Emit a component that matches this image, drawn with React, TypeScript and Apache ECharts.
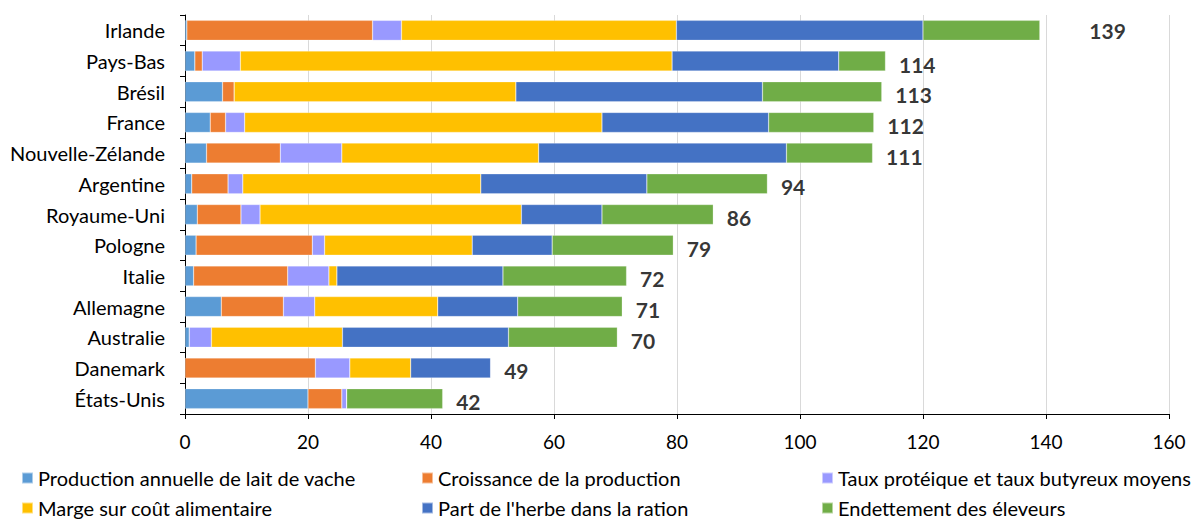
import React, { useEffect, useRef } from "react";
import * as echarts from "echarts";

const countries = [
  "Irlande", "Pays-Bas", "Brésil", "France", "Nouvelle-Zélande", "Argentine",
  "Royaume-Uni", "Pologne", "Italie", "Allemagne", "Australie", "Danemark", "États-Unis",
];
const seriesNames = [
  "Production annuelle de lait de vache",
  "Croissance de la production",
  "Taux protéique et taux butyreux moyens",
  "Marge sur coût alimentaire",
  "Part de l'herbe dans la ration",
  "Endettement des éleveurs",
];
const production = [0.3, 1.6, 6.1, 4.1, 3.5, 1.1, 2.0, 1.8, 1.4, 5.9, 0.7, 0, 20.0];
const croissance = [30.2, 1.2, 1.9, 2.5, 12.0, 5.9, 7.1, 18.9, 15.3, 10.1, 0, 21.2, 5.5];
const taux = [4.7, 6.2, 0, 3.1, 10.0, 2.4, 3.1, 2.0, 6.7, 5.1, 3.6, 5.6, 0.8];
const marge = [44.7, 70.2, 45.8, 58.1, 32.0, 38.7, 42.5, 24.0, 1.3, 20.0, 21.3, 9.9, 0];
const herbe = [40.1, 27.1, 40.1, 27.1, 40.3, 27.0, 13.1, 13.0, 27.0, 13.0, 27.0, 13.0, 0];
const endettement = [19.0, 7.6, 19.4, 17.1, 14.0, 19.6, 18.1, 19.7, 20.1, 17.0, 17.7, 0, 15.6];
const totals = [139, 114, 113, 112, 111, 94, 86, 79, 72, 71, 70, 49, 42];
const xTicks = [0, 20, 40, 60, 80, 100, 120, 140, 160];

const colors = ["#5B9BD5", "#ED7D31", "#9999FF", "#FFC000", "#4472C4", "#70AD47"];
const FONT = "Lato, 'Open Sans', sans-serif";

export default function App() {
  const ref = useRef<HTMLDivElement>(null);
  useEffect(() => {
    if (!ref.current) return;
    const chart = echarts.init(ref.current, null, { renderer: "svg" });
    const values = [production, croissance, taux, marge, herbe, endettement];
    const sums = countries.map((_, i) => values.reduce((s, arr) => s + arr[i], 0));
    const barSeries = seriesNames.map((name, k) => ({
      name,
      type: "bar",
      stack: "total",
      barWidth: 20,
      data: values[k],
      itemStyle: { color: colors[k], borderColor: "rgba(255,255,255,0.5)", borderWidth: 0.5 },
    }));
    const labelSeries = {
      name: "Total",
      type: "scatter",
      symbolSize: 1,
      itemStyle: { color: "rgba(0,0,0,0)" },
      data: countries.map((c, i) => ({
        value: [sums[i], c],
        label: {
          show: true,
          position: "right",
          distance: 13,
          offset: i === 0 ? [36, 0] : [0, 3],
          formatter: () => String(totals[i]),
          fontFamily: FONT,
          fontWeight: "bold",
          fontSize: 21,
          color: "#000",
        },
      })),
      silent: true,
      z: 5,
    };
    const legendText = { fontFamily: FONT, fontSize: 20, lineHeight: 18, color: "#000" };
    const legendLeft = [21, 421, 821];
    const legendTop = [468, 498];
    const legends = seriesNames.map((name, k) => ({
      orient: "horizontal",
      left: legendLeft[k % 3],
      top: legendTop[Math.floor(k / 3)],
      padding: 0,
      itemWidth: 11,
      itemHeight: 11,
      itemGap: 8,
      icon: "rect",
      textStyle: legendText,
      selectedMode: false,
      data: [name],
    }));
    chart.setOption({
      animation: false,
      color: colors,
      grid: { left: 185, right: 24, top: 15, bottom: 107, containLabel: false },
      legend: legends,
      xAxis: {
        type: "value",
        min: xTicks[0],
        max: xTicks[xTicks.length - 1],
        interval: 20,
        axisLine: { show: true, lineStyle: { color: "#000", width: 1 } },
        axisTick: { show: true, length: 5, lineStyle: { color: "#000" } },
        axisLabel: { fontFamily: FONT, fontSize: 19, color: "#000", margin: 18 },
        splitLine: { show: true, lineStyle: { color: "#D9D9D9", width: 1 } },
      },
      yAxis: {
        type: "category",
        inverse: true,
        data: countries,
        axisLine: { show: true, lineStyle: { color: "#000", width: 1 } },
        axisTick: { show: true, length: 5, lineStyle: { color: "#000" } },
        axisLabel: { fontFamily: FONT, fontSize: 20, color: "#000", margin: 20 },
      },
      series: [...barSeries, labelSeries],
    });
    return () => chart.dispose();
  }, []);
  return (
    <div
      ref={ref}
      style={{ position: "fixed", left: 0, top: 0, width: 1193, height: 521, background: "#fff" }}
    />
  );
}
